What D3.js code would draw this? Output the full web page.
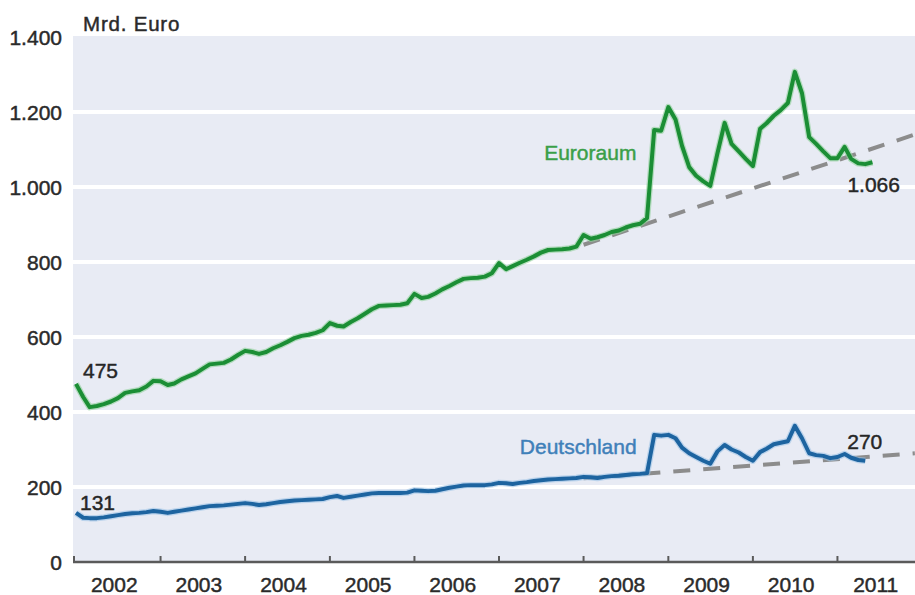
<!DOCTYPE html>
<html>
<head>
<meta charset="utf-8">
<script src="https://cdn.jsdelivr.net/npm/d3@7"></script>
<style>
  html, body { margin: 0; padding: 0; background: #ffffff; }
  svg { display: block; font-family: "Liberation Sans", Arial, sans-serif; }
  .t { stroke-width: 0.45px; paint-order: stroke; }
</style>
</head>
<body>
<svg id="chart" width="915" height="595"></svg>
<script>
// ---- data (monthly, starting January 2002) ----
const startYear = 2002;
const euroraum = [
  475, 440, 413, 416, 421, 428, 437, 451, 455, 458, 468, 483,
  482, 472, 476, 487, 495, 503, 515, 527, 529, 531, 540, 552,
  563, 560, 555, 560, 570, 578, 587, 597, 603, 606, 611, 618,
  637, 630, 628, 640, 650, 662, 674, 683, 684, 685, 686, 690,
  715, 704, 707, 716, 727, 736, 746, 755, 757, 758, 761, 770,
  797, 781, 789, 798, 806, 815, 825, 832, 833, 834, 836, 841,
  872, 862, 866, 872, 880, 884, 892, 898, 902, 917, 1152, 1150,
  1213, 1180, 1110, 1053, 1030, 1015, 1003, 1090, 1171, 1115, 1095, 1075,
  1056, 1155, 1170, 1190, 1205, 1224, 1307, 1250, 1133, 1115, 1095, 1077,
  1077, 1107, 1075, 1063, 1061, 1066
];
const deutschland = [
  131, 118, 117, 117, 119, 122, 125, 128, 130, 131, 133, 136,
  134, 131, 134, 137, 140, 143, 146, 149, 150, 151, 153, 155,
  157, 155, 152, 154, 157, 160, 162, 164, 165, 166, 167, 168,
  173, 176, 171, 174, 177, 180, 183, 184, 184, 184, 184, 185,
  191, 190, 189, 190, 194, 198, 201, 204, 205, 205, 205, 207,
  211, 210, 208, 211, 213, 216, 218, 220, 221, 222, 223, 224,
  227, 226, 224, 227, 229, 230, 232, 234, 235, 237, 339, 337,
  339, 330, 305, 290, 280, 270, 262, 295, 312, 300, 292, 280,
  270, 293, 302, 314, 318, 322, 363, 330, 290, 285, 283, 277,
  280, 288, 278, 272, 270
];
// trend lines: [month index from Jan 2002, value]
const trendEuroraum = [[72, 846], [119, 1140]];
const trendDeutschland = [[72, 223], [119, 290]];
const yTicks = [0, 200, 400, 600, 800, 1000, 1200, 1400];
const years = [2002, 2003, 2004, 2005, 2006, 2007, 2008, 2009, 2010, 2011];
const unitLabel = "Mrd. Euro";
const seriesNames = ["Euroraum", "Deutschland"];

// ---- layout ----
const svg = d3.select("#chart");
const plot = { left: 73, right: 915, top: 36, bottom: 562 };
const monthDate = i => new Date(startYear, i, 1);

const x = d3.scaleTime()
  .domain([new Date(2002, 0, 1), new Date(2012, 0, 1)])
  .range([76, 922]);
const y = d3.scaleLinear().domain([0, 1400]).range([562, 37]);

const de = d3.formatLocale({ decimal: ",", thousands: ".", grouping: [3], currency: ["", " €"] });
const fmt = de.format(",d");

// background
svg.append("rect")
  .attr("x", plot.left).attr("y", plot.top)
  .attr("width", plot.right - plot.left).attr("height", plot.bottom - plot.top)
  .attr("fill", "#e8ebf4");

// gridlines
svg.append("g").selectAll("line")
  .data(yTicks.filter(d => d > 0 && d < 1400))
  .join("line")
  .attr("x1", plot.left).attr("x2", plot.right)
  .attr("y1", d => y(d)).attr("y2", d => y(d))
  .attr("stroke", "#ffffff").attr("stroke-width", 4);

// y labels
svg.append("g").selectAll("text")
  .data(yTicks).join("text")
  .attr("class", "t")
  .attr("x", 62).attr("y", d => y(d))
  .attr("dy", "0.36em")
  .attr("text-anchor", "end")
  .attr("font-size", 21).attr("fill", "#2a2a2a").attr("stroke", "#2a2a2a")
  .text(d => fmt(d));

// unit label
svg.append("text")
  .attr("class", "t")
  .attr("x", 83).attr("y", 31)
  .attr("font-size", 20.5).attr("letter-spacing", 0.8)
  .attr("fill", "#2a2a2a").attr("stroke", "#2a2a2a")
  .text(unitLabel);

// x axis line
svg.append("line")
  .attr("x1", plot.left).attr("x2", plot.right)
  .attr("y1", y(0)).attr("y2", y(0))
  .attr("stroke", "#5a5a5a").attr("stroke-width", 2.5);

// year boundary ticks
const tickYears = years.slice(1);
svg.append("g").selectAll("line")
  .data(tickYears).join("line")
  .attr("x1", d => x(new Date(d, 0, 1))).attr("x2", d => x(new Date(d, 0, 1)))
  .attr("y1", y(0)).attr("y2", y(0) - 6)
  .attr("stroke", "#5a5a5a").attr("stroke-width", 2);
svg.append("line")
  .attr("x1", plot.left + 1).attr("x2", plot.left + 1)
  .attr("y1", y(0)).attr("y2", y(0) - 6)
  .attr("stroke", "#5a5a5a").attr("stroke-width", 2);

// year labels
svg.append("g").selectAll("text")
  .data(years).join("text")
  .attr("class", "t")
  .attr("x", d => (x(new Date(d, 0, 1)) + x(new Date(d + 1, 0, 1))) / 2 - 4)
  .attr("y", 592)
  .attr("text-anchor", "middle")
  .attr("font-size", 21).attr("fill", "#2a2a2a").attr("stroke", "#2a2a2a")
  .text(d => d);

// clip
svg.append("clipPath").attr("id", "clip")
  .append("rect").attr("x", plot.left).attr("y", 0)
  .attr("width", plot.right - plot.left).attr("height", plot.bottom);

const g = svg.append("g").attr("clip-path", "url(#clip)");

// trend lines
const trendLine = d3.line().x(d => x(monthDate(d[0]))).y(d => y(d[1]));
[trendEuroraum, trendDeutschland].forEach(t => {
  g.append("path")
    .attr("d", trendLine(t))
    .attr("fill", "none")
    .attr("stroke", "#8c8c8c")
    .attr("stroke-width", 4)
    .attr("stroke-dasharray", "17,13");
});

// series lines
const line = d3.line().x((d, i) => x(monthDate(i))).y(d => y(d)).curve(d3.curveLinear);
const series = [
  { data: euroraum, color: "#1b8e35", halo: "#8fd09a" },
  { data: deutschland, color: "#1d64a0", halo: "#9cc3e6" }
];
series.forEach(s => {
  g.append("path").attr("d", line(s.data))
    .attr("fill", "none").attr("stroke", s.halo).attr("stroke-width", 6.5)
    .attr("stroke-linejoin", "round").attr("opacity", 0.6);
  g.append("path").attr("d", line(s.data))
    .attr("fill", "none").attr("stroke", s.color).attr("stroke-width", 4)
    .attr("stroke-linejoin", "round");
});

// series name labels
svg.append("text")
  .attr("class", "t")
  .attr("x", x(new Date(2007, 6, 15))).attr("y", y(1072))
  .attr("font-size", 21).attr("fill", "#3a9f48").attr("stroke", "#3a9f48")
  .text(seriesNames[0]);
svg.append("text")
  .attr("class", "t")
  .attr("x", x(new Date(2007, 3, 1))).attr("y", y(290) + 1)
  .attr("font-size", 21).attr("fill", "#3f80b9").attr("stroke", "#3f80b9")
  .text(seriesNames[1]);

// value annotations
const lastE = euroraum.length - 1, lastD = deutschland.length - 1;
const ann = [
  { t: fmt(euroraum[0]), x: x(monthDate(0)) + 7, y: y(euroraum[0]) - 6 },
  { t: fmt(deutschland[0]), x: x(monthDate(0)) + 4, y: y(deutschland[0]) - 3 },
  { t: fmt(euroraum[lastE]), x: x(monthDate(lastE)) - 25, y: y(euroraum[lastE]) + 30 },
  { t: fmt(deutschland[lastD]), x: x(monthDate(lastD)) - 18, y: y(deutschland[lastD]) - 12 }
];
svg.append("g").selectAll("text").data(ann).join("text")
  .attr("class", "t")
  .attr("x", d => d.x).attr("y", d => d.y)
  .attr("font-size", 21).attr("fill", "#262626").attr("stroke", "#262626")
  .text(d => d.t);
</script>
</body>
</html>
